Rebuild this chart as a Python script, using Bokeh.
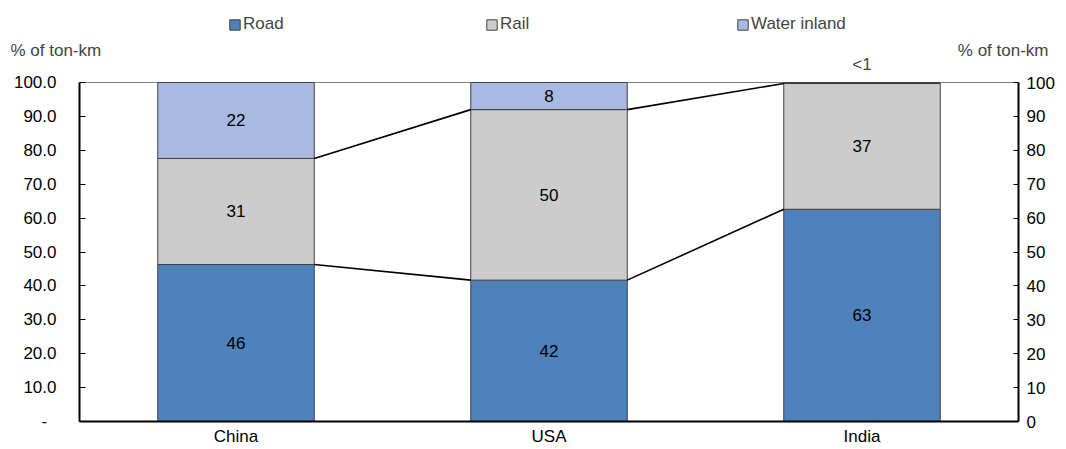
from bokeh.plotting import figure
from bokeh.models import (ColumnDataSource, LinearAxis, FixedTicker, Range1d,
                          Label, Legend, LegendItem)
from bokeh.embed import file_html
from bokeh.resources import INLINE
from bokeh.core.properties import value

# ---------------- data ----------------
countries = ["China", "USA", "India"]
series = ["Road", "Rail", "Water inland"]
road = [46.3, 41.7, 62.6]
rail = [31.3, 50.3, 37.1]
water = [22.4, 8.0, 0.3]
left_ticks = [0, 10, 20, 30, 40, 50, 60, 70, 80, 90, 100]
left_tick_labels = ["-\u00a0\u00a0", "10.0", "20.0", "30.0", "40.0", "50.0",
                    "60.0", "70.0", "80.0", "90.0", "100.0"]
right_tick_labels = ["0", "10", "20", "30", "40", "50", "60", "70", "80", "90", "100"]
axis_title = "% of ton-km"

# ---------------- layout / style ----------------
W, H = 1066, 449
PL, PR, PT, PB = 79, 1018, 82, 421      # plot-area edges in pixels
FONT = "Liberation Sans"
FS = "17px"
colors = ["#4F81BD", "#CCCCCC", "#A9B9E2"]
BAR_W = 0.5

xs = list(range(len(countries)))
values = [road, rail, water]
x_lo, x_hi = -0.5, len(countries) - 0.5
y_lo, y_hi = 0, 100
kx = (PR - PL) / (x_hi - x_lo)
ky = (PB - PT) / (y_hi - y_lo)

p = figure(width=W, height=H,
           x_range=Range1d(x_lo - PL / kx, x_hi + (W - PR) / kx),
           y_range=Range1d(y_lo - (H - PB) / ky, y_hi + PT / ky),
           output_backend="svg", toolbar_location=None,
           min_border_left=0, min_border_right=0, min_border_top=0, min_border_bottom=0)
p.xgrid.visible = False
p.ygrid.visible = False
p.outline_line_color = None
p.background_fill_color = "white"
p.border_fill_color = "white"

# top border of plot area
p.line(x=[x_lo, x_hi], y=[y_hi, y_hi], line_color="#808080", line_width=1)

src = ColumnDataSource(dict(x=xs, **{s: v for s, v in zip(series, values)}))
renderers = p.vbar_stack(series, x="x", width=BAR_W, source=src,
                         fill_color=colors, line_color="#404040", line_width=1)

# connector lines between bars (top of road, top of rail)
x0, y0, x1, y1 = [], [], [], []
cum = [0.0] * len(countries)
for vals in values[:2]:
    cum = [c + v for c, v in zip(cum, vals)]
    for i in range(len(countries) - 1):
        x0.append(xs[i] + BAR_W / 2)
        x1.append(xs[i + 1] - BAR_W / 2)
        y0.append(cum[i])
        y1.append(cum[i + 1])
p.segment(x0=x0, y0=y0, x1=x1, y1=y1, line_color="black", line_width=1.6)

# value labels
lx, ly, lt = [], [], []
base = [0.0] * len(countries)
for vals in values:
    for i, v in enumerate(vals):
        if v >= 1:
            lx.append(xs[i])
            ly.append(base[i] + v / 2)
            lt.append(str(int(round(v))))
        else:
            p.add_layout(Label(x=xs[i], y=base[i] + v, y_offset=18, text="<1",
                               text_font=FONT, text_font_size=FS,
                               text_align="center", text_baseline="middle"))
    base = [b + v for b, v in zip(base, vals)]
p.text(x=lx, y=ly, text=lt, text_font=value(FONT), text_font_size=FS,
       text_align="center", text_baseline="middle", text_color="black")

# axes
def style_axis(a, tin, standoff):
    a.major_tick_in = tin
    a.major_tick_out = 0
    a.minor_tick_line_color = None
    a.axis_line_width = 2
    a.axis_line_color = "black"
    a.major_tick_line_color = "black"
    a.major_label_standoff = standoff
    a.major_label_text_font = FONT
    a.major_label_text_font_size = FS
    a.major_label_text_color = "black"

xa = p.xaxis[0]
xa.ticker = FixedTicker(ticks=xs)
xa.major_label_overrides = {i: c for i, c in zip(xs, countries)}
xa.fixed_location = y_lo
xa.bounds = (x_lo, x_hi)
style_axis(xa, 0, 5)

ya = p.yaxis[0]
ya.ticker = FixedTicker(ticks=left_ticks)
ya.major_label_overrides = {t: l for t, l in zip(left_ticks, left_tick_labels)}
ya.fixed_location = x_lo
ya.bounds = (y_lo, y_hi)
style_axis(ya, 6, 23)

ra = LinearAxis(ticker=FixedTicker(ticks=left_ticks),
                major_label_overrides={t: l for t, l in zip(left_ticks, right_tick_labels)},
                fixed_location=x_hi, bounds=(y_lo, y_hi))
style_axis(ra, 5, 8)
p.add_layout(ra, "right")

# axis titles
p.add_layout(Label(x=x_lo, y=y_hi, x_offset=-69, y_offset=32, text=axis_title,
                   text_font=FONT, text_font_size=FS, text_align="left",
                   text_baseline="middle"))
p.add_layout(Label(x=x_hi, y=y_hi, x_offset=30, y_offset=32, text=axis_title,
                   text_font=FONT, text_font_size=FS, text_align="right",
                   text_baseline="middle"))

# legends
leg_x = [228, 485, 736]
for i, r in enumerate(renderers):
    leg = Legend(items=[LegendItem(label=series[i], renderers=[r])],
                 location=(leg_x[i], H - 34), orientation="horizontal",
                 padding=0, margin=0, spacing=0,
                 glyph_width=13, glyph_height=13, label_standoff=2,
                 label_text_font=FONT, label_text_font_size=FS,
                 label_height=13,
                 border_line_alpha=0, background_fill_alpha=0)
    p.add_layout(leg, "center")

open("out.html", "w").write(file_html(p, INLINE))
